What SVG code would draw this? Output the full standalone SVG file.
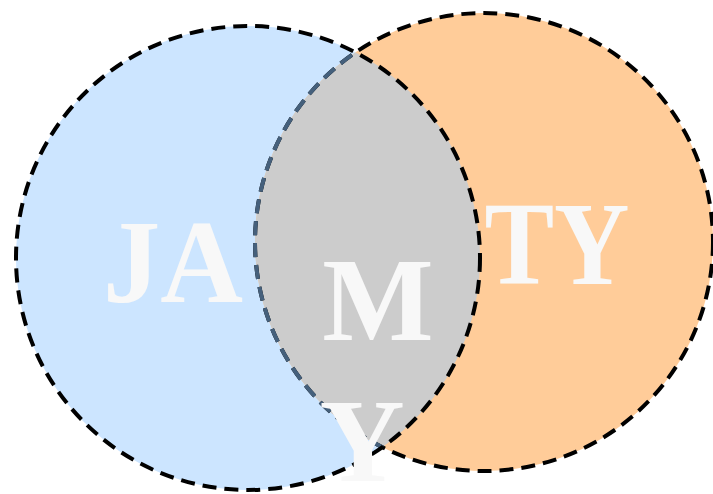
<svg xmlns="http://www.w3.org/2000/svg" width="713" height="494" viewBox="0 0 713 494">
<style>
.lbl{font-family:"Liberation Serif","DejaVu Serif",serif;font-weight:bold;font-size:118px;fill:#f8f8f8;text-anchor:middle}
.dash{fill:none;stroke-width:4;stroke-dasharray:14 8}
</style>
<defs>
<clipPath id="clipL"><circle cx="248" cy="258" r="232"/></clipPath>
</defs>
<g id="setA-fill"><circle cx="248" cy="258" r="232" fill="#cce5ff"/></g>
<g id="setB-fill"><circle cx="484" cy="242" r="229" fill="#ffcc99"/></g>
<g id="intersection"><circle cx="484" cy="242" r="229" fill="#cccccc" clip-path="url(#clipL)"/></g>
<g id="setB-outline">
<circle cx="484" cy="242" r="229" class="dash" stroke="#000"/>
<circle cx="484" cy="242" r="229" class="dash" stroke="#45607c" clip-path="url(#clipL)"/>
</g>
<g id="setA-outline"><circle cx="248" cy="258" r="232" class="dash" stroke="#000"/></g>
<g id="connectors"/>
<g id="labels">
<text class="lbl" x="173" y="302" textLength="140" lengthAdjust="spacingAndGlyphs">JA</text>
<text class="lbl" x="378" y="340">M</text>
<text class="lbl" x="557" y="284" textLength="145" lengthAdjust="spacingAndGlyphs">TY</text>
<text class="lbl" x="362" y="481">Y</text>
</g>
</svg>
